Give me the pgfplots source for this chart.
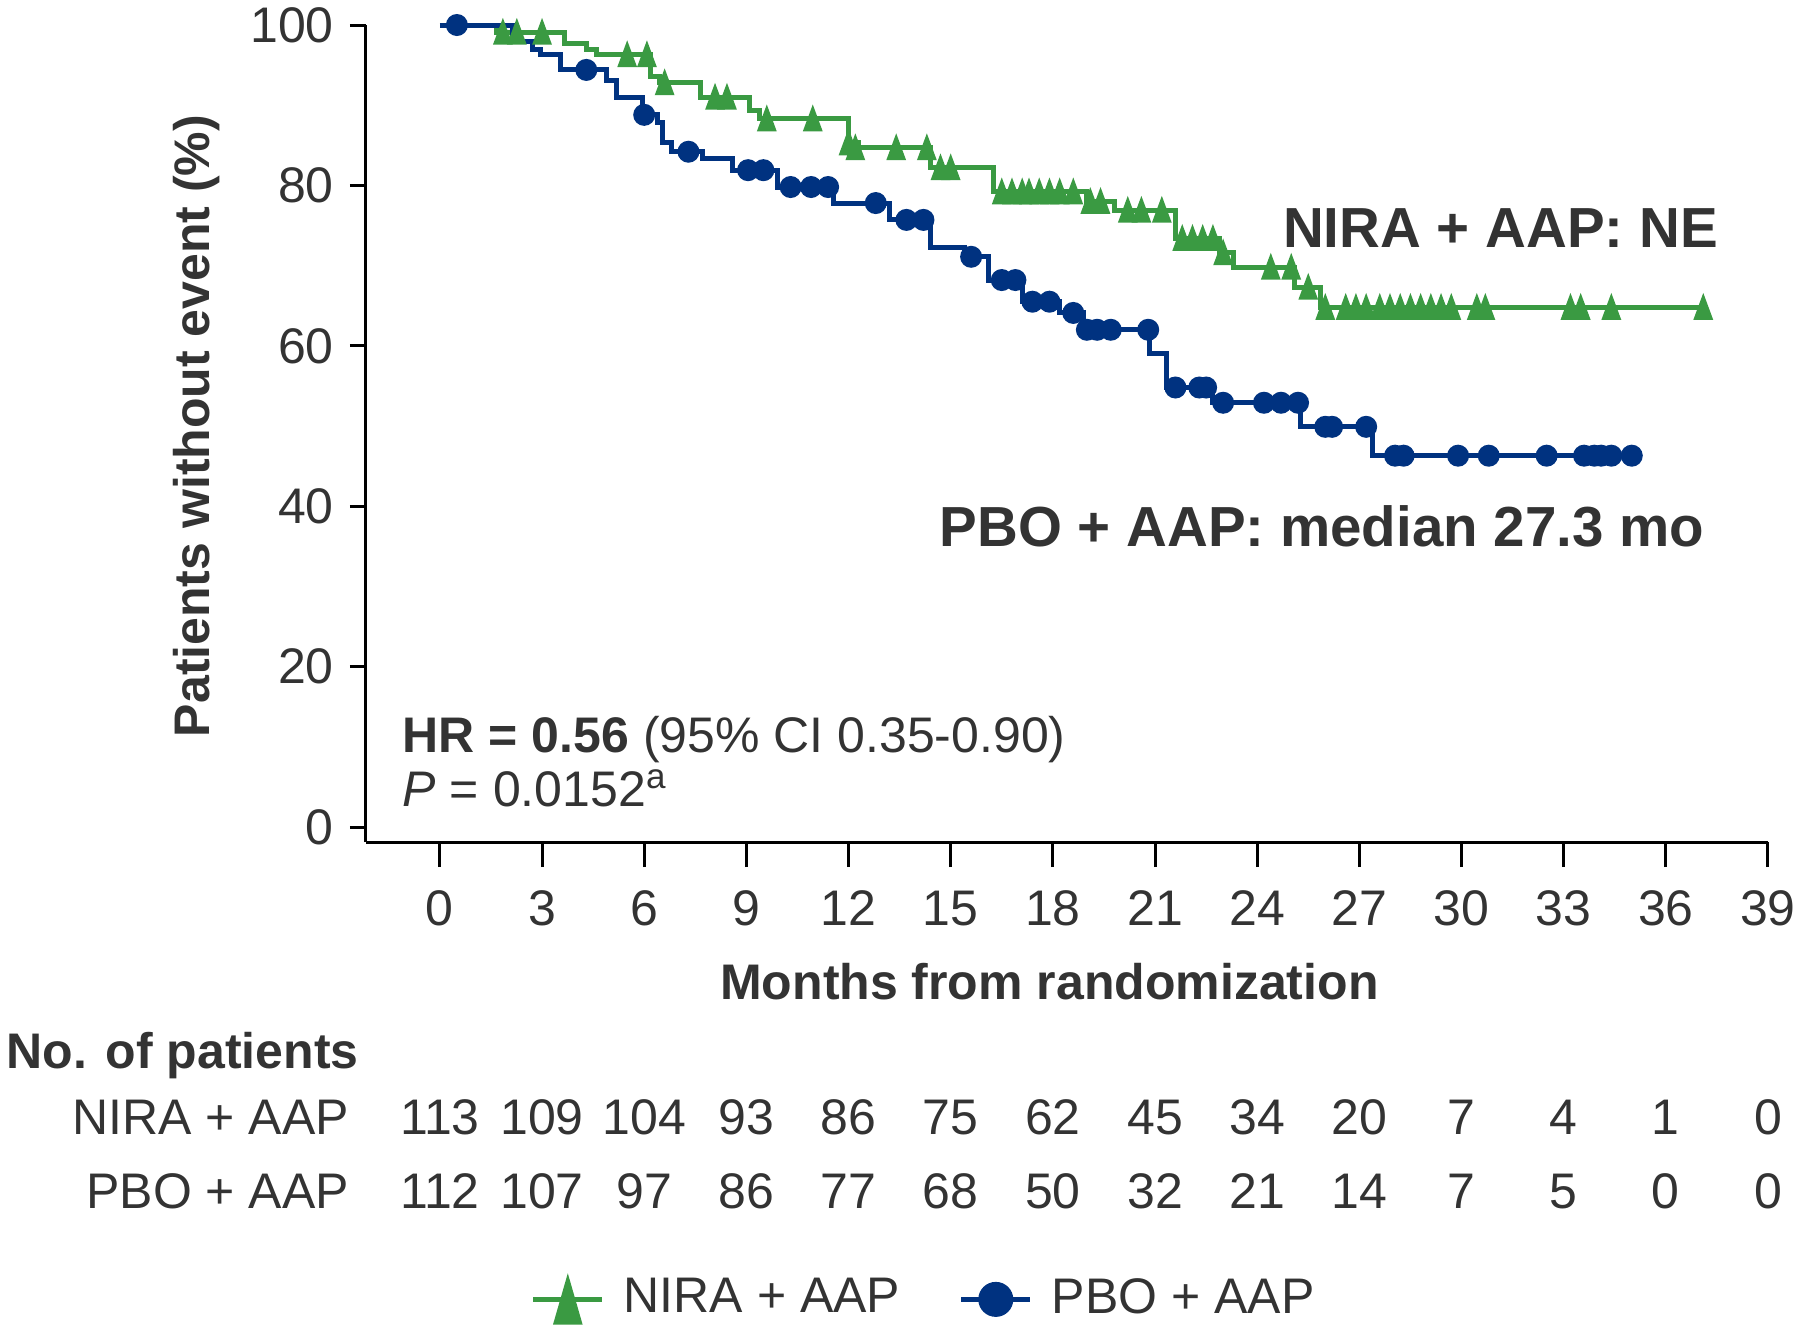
\documentclass[border=0pt]{standalone}
\usepackage{fontspec}
\setmainfont{Liberation Sans}
\usepackage{pgfplots}
\pgfplotsset{compat=1.18}

\definecolor{niragreen}{RGB}{58,154,66}
\definecolor{pboblue}{RGB}{0,50,128}
\definecolor{txt}{RGB}{51,51,51}

\newcommand{\lbl}{\fontsize{10}{12}\selectfont}
\newcommand{\bigbold}{\fontsize{11.3}{13}\selectfont\bfseries}

\begin{document}
\begin{tikzpicture}
\useasboundingbox (-73.2pt,-97.4pt) rectangle (286.8pt,168.4pt);
\begin{axis}[
    scale only axis,
    width=280.4pt, height=163.4pt,
    xmin=-2.17, xmax=39, ymin=-1.87, ymax=100,
    axis lines=left,
    axis line style={-, line width=0.6pt, black},
    xtick={0,3,...,39}, ytick={0,20,...,100},
    tick align=outside,
    tick style={line width=0.6pt, black},
    xtick style={/pgfplots/major tick length=5pt},
    ytick style={/pgfplots/major tick length=3.2pt},
    /pgf/number format/assume math mode=true,
    every tick label/.append style={font=\lbl, text=txt},
    xticklabel style={anchor=base, inner sep=0pt, yshift=-12.5pt},
    yticklabel style={anchor=east, inner sep=0pt, xshift=-2pt},
    clip=false,
    legend columns=2,
    legend style={draw=none, fill=none, inner sep=0pt, outer sep=0pt,
        at={(axis cs:2.67,-59)}, anchor=west,
        nodes={inner sep=0pt, font=\lbl, text=txt},
        /tikz/every odd column/.append style={column sep=3.8pt},
        /tikz/every even column/.append style={column sep=11.7pt}},
    legend image code/.code={\draw[mark repeat=2,mark phase=2]
        plot coordinates {(0pt,0pt) (6.9pt,0pt) (13.8pt,0pt)};},
]

% legend entries
\addlegendimage{niragreen, line width=1pt, mark=triangle*,
    mark options={solid, yshift=-1.9pt, yscale=2}, mark size=2.66pt}
\addlegendentry{NIRA + AAP}
\addlegendimage{pboblue, line width=1pt, mark=*, mark size=3pt}
\addlegendentry{PBO + AAP}

% NIRA + AAP
\addplot[const plot, niragreen, line width=1pt, forget plot] coordinates {
    (0,100) (1.67,99.1) (3.65,97.7) (4.3,97.0) (4.6,96.3) (6.17,93.6)
    (6.46,92.8) (7.64,91.0) (9.1,89.4) (9.4,88.3) (12.0,85.3) (12.3,84.7)
    (14.4,82.2) (16.25,79.2) (19.0,78.0) (19.8,76.9) (21.6,73.4) (22.9,71.6)
    (23.3,69.8) (25.1,67.3) (25.85,64.8) (37.2,64.8)
};
\addplot[only marks, niragreen, mark=triangle*, mark size=1.96pt,
    mark options={yshift=-0.76pt, yscale=1.56}, forget plot] coordinates {
    (1.85,99.1) (2.26,99.1) (3.0,99.1)
    (5.5,96.3) (6.08,96.3) (6.6,92.8) (8.08,91.0) (8.43,91.0)
    (9.6,88.3) (10.95,88.3) (12.0,85.3) (12.2,84.7) (13.4,84.7) (14.3,84.7)
    (14.7,82.2) (15.0,82.2)
    (16.5,79.2) (16.8,79.2) (17.1,79.2) (17.3,79.2) (17.6,79.2) (17.9,79.2)
    (18.2,79.2) (18.6,79.2) (19.1,78.0) (19.4,78.0)
    (20.2,76.9) (20.6,76.9) (21.2,76.9)
    (21.8,73.4) (22.1,73.4) (22.4,73.4) (22.7,73.4) (23.0,71.6)
    (24.4,69.8) (25.0,69.8) (25.5,67.3)
    (26.0,64.8) (26.6,64.8) (26.9,64.8) (27.2,64.8) (27.6,64.8) (27.9,64.8)
    (28.2,64.8) (28.5,64.8) (28.8,64.8) (29.1,64.8) (29.4,64.8) (29.7,64.8)
    (30.45,64.8) (30.7,64.8) (33.2,64.8) (33.5,64.8) (34.4,64.8) (37.1,64.8)
};

% PBO + AAP
\addplot[const plot, pboblue, line width=1pt, forget plot] coordinates {
    (0,100) (2.14,97.9) (2.73,97.0) (2.95,96.3) (3.55,94.4) (4.9,93.1)
    (5.2,91.0) (5.96,88.8) (6.4,87.9) (6.55,85.3) (6.8,84.2) (7.7,83.3)
    (8.6,81.9) (9.9,79.8) (11.55,77.8) (13.2,75.7) (14.4,72.3) (15.4,71.1)
    (16.1,68.2) (17.1,65.5) (18.2,64.1) (18.9,62.0) (20.85,59.1) (21.35,54.8)
    (22.7,52.9) (25.26,49.9) (27.4,46.3) (35.05,46.3)
};
\addplot[only marks, pboblue, mark=*, mark size=2pt, forget plot] coordinates {
    (0.5,100) (4.3,94.4) (6.0,88.8) (7.3,84.2) (9.05,81.9) (9.5,81.9)
    (10.3,79.8) (10.9,79.8) (11.4,79.8) (12.8,77.8) (13.7,75.7) (14.2,75.7)
    (15.6,71.1) (16.5,68.2) (16.9,68.2) (17.4,65.5) (17.9,65.5) (18.6,64.1)
    (19.0,62.0) (19.3,62.0) (19.7,62.0) (20.8,62.0)
    (21.6,54.8) (22.3,54.8) (22.5,54.8)
    (23.0,52.9) (24.2,52.9) (24.7,52.9) (25.2,52.9)
    (26.0,49.9) (26.2,49.9) (27.2,49.9)
    (28.05,46.3) (28.3,46.3) (29.9,46.3) (30.8,46.3) (32.5,46.3)
    (33.6,46.3) (33.9,46.3) (34.1,46.3) (34.4,46.3) (35.0,46.3)
};

% numbers at risk
\addplot[draw=none, mark=none, forget plot, nodes near coords,
    point meta=explicit symbolic,
    every node near coord/.append style={anchor=base, inner sep=0pt, font=\lbl, text=txt}]
    coordinates {
    (0,-38.3)[113] (3,-38.3)[109] (6,-38.3)[104] (9,-38.3)[93] (12,-38.3)[86]
    (15,-38.3)[75] (18,-38.3)[62] (21,-38.3)[45] (24,-38.3)[34] (27,-38.3)[20]
    (30,-38.3)[7] (33,-38.3)[4] (36,-38.3)[1] (39,-38.3)[0]
};
\addplot[draw=none, mark=none, forget plot, nodes near coords,
    point meta=explicit symbolic,
    every node near coord/.append style={anchor=base, inner sep=0pt, font=\lbl, text=txt}]
    coordinates {
    (0,-47.6)[112] (3,-47.6)[107] (6,-47.6)[97] (9,-47.6)[86] (12,-47.6)[77]
    (15,-47.6)[68] (18,-47.6)[50] (21,-47.6)[32] (24,-47.6)[21] (27,-47.6)[14]
    (30,-47.6)[7] (33,-47.6)[5] (36,-47.6)[0] (39,-47.6)[0]
};

% texts
\node[anchor=base west, inner sep=0pt, text=txt, font=\bigbold] at (axis cs:24.73,72.3) {NIRA + AAP: NE};
\node[anchor=base west, inner sep=0pt, text=txt, font=\bigbold] at (axis cs:14.65,35.0) {PBO + AAP: median 27.3 mo};
\node[anchor=base west, inner sep=0pt, text=txt, font=\lbl] at (axis cs:-1.12,9.3) {\textbf{HR = 0.56} (95\% CI 0.35-0.90)};
\node[anchor=base west, inner sep=0pt, text=txt, font=\lbl] at (axis cs:-1.12,2.5) {\textit{P} = 0.0152\textsuperscript{a}};
\node[rotate=90, inner sep=0pt, text=txt, font=\lbl\bfseries] at (axis cs:-7.14,50) {Patients without event (\%)};
\node[anchor=base, inner sep=0pt, text=txt, font=\lbl\bfseries] at (axis cs:17.9,-21.45) {Months from randomization};
\node[anchor=base west, inner sep=0pt, text=txt, font=\lbl\bfseries] at (axis cs:-12.75,-30.05) {No. of patients};
\node[anchor=base east, inner sep=0pt, text=txt, font=\lbl] at (axis cs:-2.64,-38.3) {NIRA + AAP};
\node[anchor=base east, inner sep=0pt, text=txt, font=\lbl] at (axis cs:-2.64,-47.6) {PBO + AAP};
\end{axis}
\end{tikzpicture}
\end{document}
